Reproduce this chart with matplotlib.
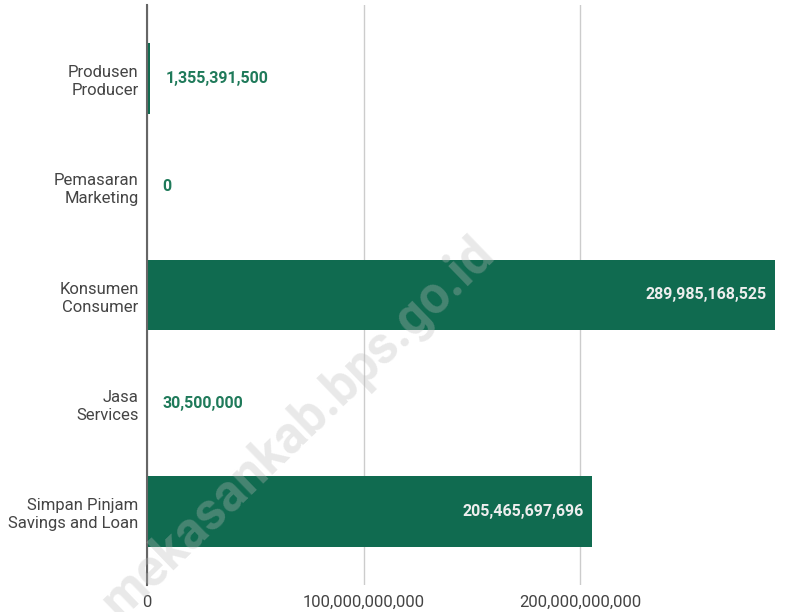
import matplotlib.pyplot as plt
from matplotlib.ticker import FuncFormatter

# ---------- data ----------
categories = ["Produsen\nProducer", "Pemasaran\nMarketing", "Konsumen\nConsumer",
              "Jasa\nServices", "Simpan Pinjam\nSavings and Loan"]
values = [1355391500, 0, 289985168525, 30500000, 205465697696]
x_ticks = [0, 100e9, 200e9]

# ---------- style ----------
bar_color = "#106b50"
label_green = "#1f7a5a"
text_gray = "#444444"
plt.rcParams["font.family"] = ["Roboto", "DejaVu Sans"]

fig = plt.figure(figsize=(7.93, 6.12), dpi=100)
ax = fig.add_axes([147 / 793, 27 / 612, (790 - 147) / 793, 580 / 612])

y = list(range(len(categories)))
ax.barh(y, values, height=0.65, color=bar_color, zorder=2)

ax.set_ylim(len(categories) - 1 + 0.68, -0.68)
ax.set_xlim(0, (790 - 147) / 216.5 * 1e11)
ax.set_yticks(y)
ax.set_yticklabels(categories, fontsize=12, color=text_gray, linespacing=1.25)
ax.set_xticks(x_ticks)
ax.xaxis.set_major_formatter(FuncFormatter(lambda v, p: f"{v:,.0f}"))
ax.tick_params(axis="x", labelsize=12, labelcolor=text_gray, length=0, pad=7)
ax.tick_params(axis="y", length=0, pad=6)
for lab in ax.get_yticklabels():
    lab.set_horizontalalignment("right")

ax.grid(axis="x", color="#cccccc", lw=1, zorder=0)
for s in ["top", "right", "bottom"]:
    ax.spines[s].set_visible(False)
ax.spines["left"].set_color("#666666")
ax.spines["left"].set_linewidth(1.5)
ax.spines["left"].set_zorder(3)

# value labels
xmax = ax.get_xlim()[1]
for yi, v in zip(y, values):
    if v > 0.3 * xmax:
        ax.annotate(f"{v:,}", (v, yi), xytext=(-6, 0), textcoords="offset points",
                    ha="right", va="center", color="#eeeeee", fontsize=11.5,
                    fontweight="bold", zorder=4)
    else:
        ax.annotate(f"{v:,}", (v, yi), xytext=(11, 0), textcoords="offset points",
                    ha="left", va="center", color=label_green, fontsize=11.5,
                    fontweight="bold", zorder=4)

# watermark (cut at bottom edge, as in the original)
fig.text(298 / 793, 1 - 428 / 612, "mekasankab.bps.go.id", rotation=44,
         ha="center", va="center", fontsize=37, fontweight="bold",
         color="#bbbbbb", alpha=0.32, zorder=10, rotation_mode="anchor")

fig.savefig("out.png", dpi=100)
